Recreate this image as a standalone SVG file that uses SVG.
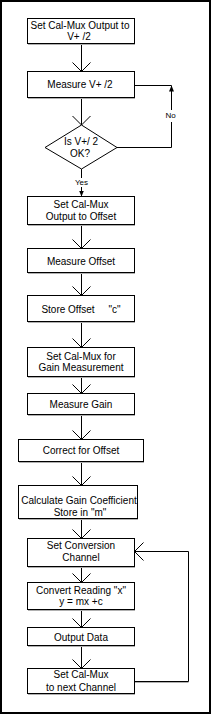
<svg xmlns="http://www.w3.org/2000/svg" width="211" height="714" viewBox="0 0 211 714">
<defs>
<style>
.box{fill:#fff;stroke:#000;stroke-width:1}
.shadow{fill:none;stroke:#b0b0b0;stroke-width:1}
.ln{fill:none;stroke:#000;stroke-width:1}
.t{font-family:"Liberation Sans",Arial,sans-serif;font-size:10px;fill:#000;text-anchor:middle}
.s{font-family:"Liberation Sans",Arial,sans-serif;font-size:8px;fill:#000;text-anchor:middle}
</style>
<marker id="open" viewBox="0 0 10 20" refX="9.5" refY="9" markerWidth="10" markerHeight="20" markerUnits="userSpaceOnUse" orient="auto">
<path d="M0.5,0 L9.5,9 L0.5,18" fill="none" stroke="#000" stroke-width="1"/>
</marker>
<marker id="solid" viewBox="0 0 6 6" refX="6" refY="3" markerWidth="6" markerHeight="6" markerUnits="userSpaceOnUse" orient="auto">
<path d="M0,0.5 L6,3 L0,5.5 Z" fill="#000"/>
</marker>
</defs>
<rect x="0" y="0" width="211" height="714" fill="#fff"/>
<rect x="1" y="1" width="209" height="712" fill="none" stroke="#000" stroke-width="2"/>

<g id="connectors">
<path class="ln" d="M81.5,43.5 V71.5" marker-end="url(#open)"/>
<path class="ln" d="M81.5,97.5 V125" marker-end="url(#open)"/>
<path class="ln" d="M81.5,169 V178"/>
<path class="ln" d="M81.5,187 V196.5" marker-end="url(#solid)"/>
<path class="ln" d="M117,147.5 H171.5 V122"/>
<path class="ln" d="M171.5,110 V85.5" marker-end="url(#solid)"/>
<path class="ln" d="M171.5,85.5 H134.5"/>
<path class="ln" d="M81.5,224.5 V248.5" marker-end="url(#open)"/>
<path class="ln" d="M81.5,272.5 V295.5" marker-end="url(#open)"/>
<path class="ln" d="M81.5,321.5 V347.5" marker-end="url(#open)"/>
<path class="ln" d="M81.5,376.5 V393.5" marker-end="url(#open)"/>
<path class="ln" d="M81.5,414.5 V439.5" marker-end="url(#open)"/>
<path class="ln" d="M81.5,461.5 V485.5" marker-end="url(#open)"/>
<path class="ln" d="M81.5,518.5 V538.5" marker-end="url(#open)"/>
<path class="ln" d="M81.5,566.5 V582.5" marker-end="url(#open)"/>
<path class="ln" d="M81.5,609.5 V627.5" marker-end="url(#open)"/>
<path class="ln" d="M81.5,645.5 V668.5" marker-end="url(#open)"/>
<path class="shadow" d="M134.5,682.5 H188.5"/>
<path class="ln" d="M134.5,681.5 H188.5 V551.5 H134.5" marker-end="url(#open)"/>
<text class="s" x="81.5" y="184.5">Yes</text>
<text class="s" x="170.5" y="117.5">No</text>
</g>

<g id="n1">
<path class="shadow" d="M28,44.5 H135"/>
<rect class="box" x="27.5" y="18.5" width="107" height="25"/>
<text class="t" x="80" y="29">Set Cal-Mux Output to</text>
<text class="t" x="79" y="40">V+ /2</text>
</g>
<g id="n2">
<path class="shadow" d="M28,98.5 H135"/>
<rect class="box" x="27.5" y="71.5" width="107" height="26"/>
<text class="t" x="80" y="88">Measure V+ /2</text>
</g>
<g id="n3">
<polygon class="box" points="81.5,125 117,147.5 81.5,169 45,147.5"/>
<text class="t" x="81" y="144.5">Is V+/ 2</text>
<text class="t" x="80" y="156.5">OK?</text>
</g>
<g id="n4">
<path class="shadow" d="M28,225.5 H135"/>
<rect class="box" x="27.5" y="196.5" width="107" height="28"/>
<text class="t" x="81" y="207.5">Set Cal-Mux</text>
<text class="t" x="81" y="219.5">Output to Offset</text>
</g>
<g id="n5">
<path class="shadow" d="M28,273.5 H135"/>
<rect class="box" x="27.5" y="248.5" width="107" height="24"/>
<text class="t" x="81" y="264.5">Measure Offset</text>
</g>
<g id="n6">
<path class="shadow" d="M28,322.5 H135"/>
<rect class="box" x="27.5" y="295.5" width="107" height="26"/>
<text class="t" x="81" y="313" style="white-space:pre">Store Offset     "c"</text>
</g>
<g id="n7">
<path class="shadow" d="M28,377.5 H135"/>
<rect class="box" x="27.5" y="347.5" width="107" height="29"/>
<text class="t" x="81" y="360">Set Cal-Mux for</text>
<text class="t" x="81" y="371">Gain Measurement</text>
</g>
<g id="n8">
<path class="shadow" d="M28,415.5 H135"/>
<rect class="box" x="27.5" y="393.5" width="107" height="21"/>
<text class="t" x="81" y="407.5">Measure Gain</text>
</g>
<g id="n9">
<path class="shadow" d="M19,462.5 H144"/>
<rect class="box" x="18.5" y="439.5" width="125" height="22"/>
<text class="t" x="81" y="453.5">Correct for Offset</text>
</g>
<g id="n10">
<path class="shadow" d="M19,519.5 H138"/>
<rect class="box" x="18.5" y="485.5" width="119" height="33"/>
<text class="t" x="79" y="504">Calculate Gain Coefficient</text>
<text class="t" x="80" y="516">Store in "m"</text>
</g>
<g id="n11">
<path class="shadow" d="M28,567.5 H135"/>
<rect class="box" x="27.5" y="538.5" width="107" height="28"/>
<text class="t" x="81" y="549">Set Conversion</text>
<text class="t" x="81" y="561">Channel</text>
</g>
<g id="n12">
<path class="shadow" d="M28,610.5 H135"/>
<rect class="box" x="27.5" y="582.5" width="107" height="27"/>
<text class="t" x="81" y="594">Convert Reading "x"</text>
<text class="t" x="81" y="605">y = mx +c</text>
</g>
<g id="n13">
<path class="shadow" d="M28,646.5 H135"/>
<rect class="box" x="27.5" y="627.5" width="107" height="18"/>
<text class="t" x="81" y="641">Output Data</text>
</g>
<g id="n14">
<path class="shadow" d="M28,694.5 H135"/>
<rect class="box" x="27.5" y="668.5" width="107" height="25"/>
<text class="t" x="81" y="678">Set Cal-Mux</text>
<text class="t" x="81" y="691">to next Channel</text>
</g>
</svg>
